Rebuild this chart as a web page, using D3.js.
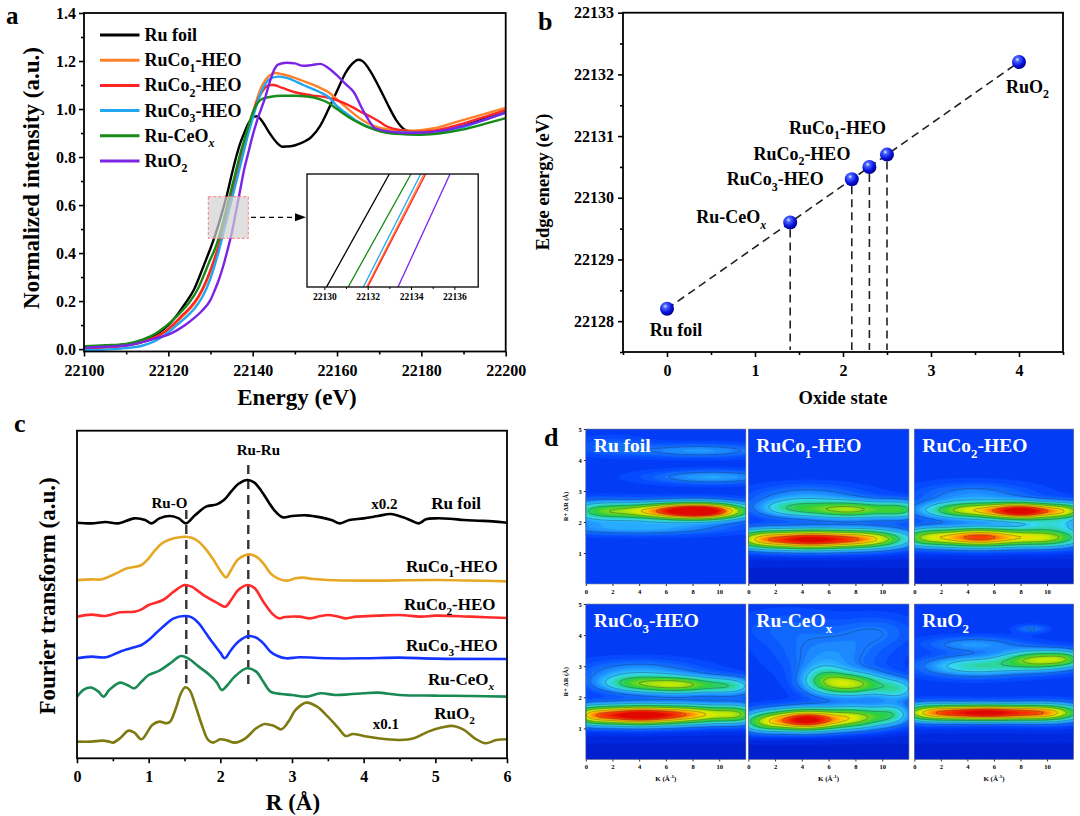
<!DOCTYPE html>
<html><head><meta charset="utf-8">
<script src="https://cdn.jsdelivr.net/npm/d3@7/dist/d3.min.js"></script>
<style>html,body{margin:0;padding:0;background:#fff}svg{display:block}</style>
</head><body>
<svg id="fig" width="1080" height="816" xmlns="http://www.w3.org/2000/svg"></svg>
<script>
// ================= DATA =================
// (a) Ru K-edge XANES  [energy (eV), normalized intensity]
const xanesNames = ["Ru foil","RuCo1-HEO","RuCo2-HEO","RuCo3-HEO","Ru-CeOx","RuO2"];
const xanesColors = ["#000000","#ff8028","#ff2424","#22a6f2","#178a17","#7a24e6"];
const xanesRuFoil = [[22100,0.01],[22105,0.012],[22110,0.02],[22114,0.035],[22117,0.06],[22119,0.085],[22120,0.1],[22122,0.14],[22124,0.19],[22126,0.245],[22128,0.33],[22129,0.375],[22130,0.42],[22131,0.47],[22132,0.525],[22133,0.585],[22134,0.65],[22135,0.725],[22136,0.795],[22137,0.855],[22138,0.9],[22139,0.94],[22140,0.965],[22141,0.97],[22142,0.955],[22144,0.9],[22146,0.855],[22147,0.843],[22149,0.845],[22151,0.855],[22154,0.885],[22156,0.93],[22158,1.0],[22160,1.075],[22162,1.15],[22164,1.195],[22165,1.205],[22166,1.2],[22168,1.155],[22170,1.09],[22172,1.02],[22174,0.955],[22176,0.915],[22178,0.905],[22182,0.9],[22186,0.91],[22190,0.93],[22195,0.96],[22200,0.99]];
const xanesRuCo1 = [[22100,0.005],[22105,0.008],[22110,0.015],[22114,0.03],[22117,0.05],[22119,0.07],[22121,0.095],[22123,0.13],[22125,0.165],[22127,0.21],[22129,0.28],[22131,0.375],[22132,0.43],[22133,0.5],[22134,0.57],[22135,0.64],[22136,0.71],[22137,0.78],[22138,0.85],[22139,0.92],[22140,0.98],[22141,1.04],[22142,1.09],[22143,1.12],[22144,1.14],[22145.5,1.15],[22147,1.145],[22150,1.13],[22153,1.11],[22156,1.088],[22158,1.07],[22160,1.04],[22162,1.01],[22164,0.98],[22166,0.954],[22168,0.935],[22170,0.922],[22174,0.912],[22178,0.91],[22183,0.92],[22189,0.95],[22194,0.975],[22200,1.005]];
const xanesRuCo2 = [[22100,0.005],[22105,0.008],[22110,0.015],[22114,0.03],[22117,0.05],[22119,0.07],[22121,0.1],[22123,0.135],[22125,0.17],[22127,0.215],[22129,0.285],[22131,0.38],[22132,0.435],[22133,0.505],[22134,0.575],[22135,0.645],[22136,0.715],[22137,0.785],[22138,0.85],[22139,0.92],[22140,0.98],[22141,1.03],[22142,1.065],[22143,1.09],[22144,1.1],[22145,1.1],[22147,1.088],[22150,1.07],[22154,1.057],[22158,1.047],[22161,1.03],[22164,1.005],[22166,0.985],[22168,0.968],[22170,0.948],[22172,0.926],[22175,0.912],[22178,0.905],[22183,0.91],[22189,0.935],[22194,0.962],[22200,0.995]];
const xanesRuCo3 = [[22100,-0.005],[22105,-0.002],[22110,0.004],[22114,0.015],[22117,0.035],[22120,0.07],[22122,0.1],[22124,0.13],[22126,0.165],[22128,0.215],[22130,0.295],[22131,0.35],[22132,0.41],[22133,0.48],[22134,0.55],[22135,0.62],[22136,0.69],[22137,0.76],[22138,0.83],[22139,0.9],[22140,0.96],[22141,1.02],[22142,1.07],[22143,1.105],[22144,1.125],[22146,1.135],[22148,1.13],[22152,1.1],[22156,1.07],[22158,1.05],[22160,1.012],[22162,0.985],[22165,0.947],[22168,0.922],[22171,0.908],[22175,0.902],[22180,0.9],[22185,0.905],[22190,0.925],[22195,0.955],[22200,0.985]];
const xanesRuCeOx = [[22100,0.012],[22105,0.016],[22110,0.022],[22114,0.04],[22117,0.065],[22119,0.09],[22121,0.12],[22123,0.155],[22125,0.195],[22127,0.25],[22128,0.29],[22130,0.375],[22131,0.415],[22132,0.465],[22133,0.53],[22134,0.6],[22135,0.67],[22136,0.74],[22137,0.81],[22138,0.87],[22139,0.93],[22140,0.985],[22141,1.02],[22142,1.04],[22144,1.05],[22147,1.055],[22150,1.055],[22153,1.052],[22156,1.04],[22158,1.025],[22160,1.0],[22162,0.975],[22164,0.953],[22166,0.935],[22168,0.92],[22170,0.908],[22173,0.898],[22176,0.895],[22180,0.893],[22185,0.9],[22190,0.915],[22195,0.938],[22200,0.962]];
const xanesRuO2 = [[22100,0.005],[22105,0.01],[22110,0.015],[22114,0.03],[22117,0.045],[22120,0.06],[22122,0.078],[22124,0.1],[22126,0.128],[22128,0.16],[22130,0.205],[22131,0.245],[22132,0.29],[22133,0.345],[22134,0.41],[22135,0.48],[22136,0.57],[22137,0.66],[22138,0.75],[22139,0.82],[22140,0.89],[22141,0.95],[22142,1.0],[22143,1.05],[22144,1.11],[22145,1.16],[22146,1.185],[22148,1.193],[22150,1.19],[22152,1.18],[22154,1.183],[22156,1.188],[22158,1.17],[22160,1.14],[22162,1.105],[22164,1.07],[22166,1.0],[22167.5,0.954],[22169,0.92],[22173,0.905],[22178,0.9],[22185,0.91],[22190,0.93],[22195,0.955],[22200,0.985]];
const energyTicks = [22100,22120,22140,22160,22180,22200];
const intensityTicks = [0,0.2,0.4,0.6,0.8,1.0,1.2,1.4];
// inset (zoom of the edge): energy where each edge enters / leaves the zoom window
const insetEdgeLow  = [22130.1, 22131.95, 22132.0, 22131.8, 22131.1, 22133.4];
const insetEdgeHigh = [22133.0, 22134.6, 22134.68, 22134.45, 22134.0, 22135.8];
const insetTicks = [22130,22132,22134,22136];

// (b) edge energy vs oxidation state
const edgeSamples = ["Ru foil","Ru-CeOx","RuCo3-HEO","RuCo2-HEO","RuCo1-HEO","RuO2"];
const oxideState  = [0, 1.4, 2.1, 2.3, 2.5, 4];
const edgeEnergy  = [22128.2, 22129.6, 22130.3, 22130.5, 22130.7, 22132.2];
const oxideTicks = [0,1,2,3,4];
const edgeTicks = [22128,22129,22130,22131,22132,22133];

// (c) FT-EXAFS  [R (Å), stacked magnitude (a.u.)]
const ftNames  = ["Ru foil","RuCo1-HEO","RuCo2-HEO","RuCo3-HEO","Ru-CeOx","RuO2"];
const ftColors = ["#000000","#e6a824","#ff2a2a","#1634ff","#1a8a55","#7d7a12"];
const ftRuFoil = [[0,707],[0.2,705],[0.4,709],[0.58,705],[0.8,720],[0.95,715],[1.04,705],[1.15,720],[1.3,727],[1.42,720],[1.52,705],[1.65,730],[1.8,755],[1.95,762],[2.05,775],[2.15,800],[2.25,823],[2.38,835],[2.47,828],[2.57,803],[2.67,770],[2.77,740],[2.87,723],[3.0,727],[3.2,729],[3.4,723],[3.55,715],[3.67,705],[3.8,715],[4.0,720],[4.2,727],[4.38,733],[4.55,723],[4.67,713],[4.77,705],[4.87,717],[5.0,720],[5.2,719],[5.4,715],[5.6,713],[5.8,711],[6.0,707]];
const ftRuCo1 = [[0,535],[0.2,537],[0.35,537],[0.5,550],[0.7,570],[0.9,580],[1.0,600],[1.1,627],[1.2,647],[1.35,660],[1.5,665],[1.6,662],[1.7,650],[1.8,627],[1.9,597],[2.0,563],[2.08,543],[2.15,565],[2.25,597],[2.4,612],[2.5,605],[2.6,585],[2.7,555],[2.8,540],[2.92,533],[3.05,540],[3.15,542],[3.3,538],[3.5,535],[4.0,533],[5.0,535],[6.0,531]];
const ftRuCo2 = [[0,425],[0.2,431],[0.4,427],[0.6,438],[0.8,440],[0.9,447],[1.0,460],[1.2,475],[1.35,500],[1.5,520],[1.6,515],[1.7,500],[1.8,485],[1.95,467],[2.07,455],[2.15,475],[2.25,505],[2.38,520],[2.48,510],[2.6,470],[2.72,435],[2.82,420],[2.9,424],[3.1,425],[3.25,420],[3.4,427],[3.5,430],[3.65,425],[3.75,420],[3.9,425],[4.2,428],[4.5,430],[4.8,425],[5.0,428],[5.5,425],[6.0,421]];
const ftRuCo3 = [[0,300],[0.2,305],[0.4,303],[0.6,320],[0.8,333],[0.9,340],[1.0,355],[1.1,375],[1.2,395],[1.35,420],[1.5,427],[1.6,423],[1.7,405],[1.8,375],[1.9,345],[2.0,317],[2.06,300],[2.15,325],[2.25,350],[2.4,367],[2.5,362],[2.6,345],[2.7,320],[2.8,307],[2.92,300],[3.1,303],[3.5,300],[4.0,300],[4.5,302],[5.0,299],[6.0,298]];
const ftRuCeOx = [[0,185],[0.1,207],[0.2,212],[0.3,200],[0.37,185],[0.45,205],[0.6,227],[0.7,220],[0.8,210],[0.9,230],[1.0,250],[1.15,263],[1.3,285],[1.45,307],[1.55,300],[1.7,275],[1.85,250],[1.95,228],[2.02,205],[2.1,220],[2.2,245],[2.37,270],[2.5,260],[2.6,230],[2.7,200],[2.85,193],[3.0,190],[3.2,185],[3.4,195],[3.6,190],[3.8,192],[4.0,195],[4.2,197],[4.5,190],[5.0,188],[5.5,187],[6.0,185]];
const ftRuO2 = [[0,50],[0.2,50],[0.35,53],[0.45,50],[0.5,47],[0.6,60],[0.72,83],[0.8,77],[0.9,57],[1.0,85],[1.05,100],[1.15,110],[1.25,105],[1.3,110],[1.38,150],[1.45,195],[1.51,213],[1.57,205],[1.65,160],[1.75,95],[1.83,55],[1.9,47],[2.0,57],[2.1,53],[2.2,47],[2.35,60],[2.5,90],[2.62,103],[2.75,97],[2.85,87],[2.95,110],[3.05,145],[3.2,167],[3.35,155],[3.5,125],[3.65,90],[3.75,67],[3.85,73],[4.0,67],[4.2,60],[4.5,55],[4.7,60],[4.9,80],[5.1,93],[5.25,97],[5.4,85],[5.55,60],[5.7,45],[5.85,55],[6.0,57]];
const rTicks = [0,1,2,3,4,5,6];

// (d) WT-EXAFS features: [k (Å-1), R (Å), k spread, R spread, intensity]
const wtNames = ["Ru foil","RuCo1-HEO","RuCo2-HEO","RuCo3-HEO","Ru-CeOx","RuO2"];
const wtRuFoil = [[8.8,2.35,2.4,0.19,0.86],[4.5,2.35,3.0,0.2,0.46],[0.8,2.35,1.6,0.24,0.2],[4,1.8,4.5,0.15,0.17],[9.5,3.45,3.2,0.15,0.17],[8.5,4.3,3.5,0.15,0.15],[2,4.45,1.8,0.2,0.08]];
const wtRuCo1 = [[4.3,1.43,2.7,0.22,0.86],[9.2,1.45,2.2,0.22,0.5],[0.6,1.45,1.4,0.22,0.3],[7.6,2.4,2.5,0.2,0.5],[3,2.45,1.8,0.2,0.24],[11.5,2.4,1.2,0.2,0.26],[4.5,2.85,2.8,0.25,0.13],[6,0.25,60,0.5,-0.07]];
const wtRuCo2 = [[8.3,2.35,2.0,0.19,0.86],[3.8,2.38,2.3,0.19,0.48],[11.6,2.35,1.2,0.19,0.34],[4.8,1.5,2.6,0.22,0.78],[10.2,1.5,2,0.22,0.46],[0.6,1.5,1.4,0.22,0.3],[10.5,1.92,1.5,0.12,0.14],[4.5,2.9,3,0.25,0.13],[6,0.25,60,0.5,-0.07]];
const wtRuCo3 = [[3.6,1.42,2.5,0.22,0.88],[8.3,1.45,2.3,0.22,0.52],[11.5,1.45,1.2,0.22,0.3],[0.3,1.42,1.2,0.22,0.3],[7,2.4,2.3,0.2,0.5],[3.2,2.45,1.8,0.2,0.26],[11,2.35,1.3,0.2,0.22],[4,2.85,3,0.25,0.14],[6,0.25,60,0.5,-0.07]];
const wtRuCeOx = [[4.3,1.27,1.9,0.24,0.9],[8.2,1.35,1.6,0.26,0.45],[1,1.2,1.3,0.24,0.34],[10.8,1.45,1.0,0.24,0.24],[7.8,2.42,1.8,0.26,0.5],[5.6,2.6,1.2,0.32,0.24],[11.2,2.25,1.1,0.24,0.24],[6.2,3.35,2.6,0.45,0.13],[9.5,4.1,2,0.35,0.09],[3,4.2,2.5,0.4,0.07],[6,0.25,60,0.5,-0.07]];
const wtRuO2 = [[5.4,1.5,2.7,0.18,0.88],[1,1.5,1.8,0.2,0.44],[10.2,1.5,1.9,0.2,0.52],[9.5,3.2,2.0,0.22,0.5],[4.5,3.0,2.6,0.22,0.3],[11.5,3.25,1,0.17,0.17],[4.5,3.7,2.5,0.17,0.15],[8.8,4.2,0.8,0.09,0.11],[6,0.25,60,0.5,-0.07]];
const kTicks = [0,2,4,6,8,10];
const wtRTicks = [1,2,3,4,5];

// ================= DRAWING =================
const FONT = '"Liberation Serif","Times New Roman",Times,serif';
const svg = d3.select('#fig').attr('font-family', FONT).attr('font-weight', 'bold');

function nameParts(name){
  const m = name.match(/^(RuCo)(\d)(-HEO)$/);
  if (m) return [[m[1],0],[m[2],1],[m[3],0]];
  if (name === 'Ru-CeOx') return [['Ru-CeO',0],['x',2]];
  if (name === 'RuO2') return [['RuO',0],['2',1]];
  return [[name,0]];
}
function richText(parent, name, x, y, fs, anchor, opts){
  opts = opts || {};
  const t = parent.append('text').attr('x', x).attr('y', y).attr('font-size', fs)
    .attr('text-anchor', anchor || 'start').attr('fill', opts.fill || '#000');
  const sh = fs * 0.3; let down = false;
  nameParts(name).forEach(([s, kind]) => {
    const ts = t.append('tspan').text(s);
    if (kind) { ts.attr('font-size', fs * 0.66).attr('dy', down ? 0 : sh); down = true;
      if (kind === 2 && opts.italicX !== false) ts.attr('font-style', 'italic'); }
    else if (down) { ts.attr('dy', -sh); down = false; }
  });
  return t;
}
function drawAxis(g, axis, fs, sw){
  g.call(axis);
  g.attr('font-family', FONT).attr('font-size', fs).attr('font-weight', 'bold');
  g.select('.domain').remove();
  g.selectAll('.tick line').attr('stroke', '#000').attr('stroke-width', sw || 1.6);
  g.selectAll('.tick text').attr('fill', '#000');
}
function frame(g, x0, y0, x1, y1, sw){
  g.append('rect').attr('x', x0).attr('y', y0).attr('width', x1 - x0).attr('height', y1 - y0)
    .attr('fill', 'none').attr('stroke', '#000').attr('stroke-width', sw || 1.8);
}
function panelLetter(t, x, y, fs){
  svg.append('text').attr('x', x).attr('y', y).attr('font-size', fs || 26).text(t);
}

// ---------- Panel a ----------
(function(){
  const g = svg.append('g');
  const L = 84, R = 505.7, T = 13, B = 351.5;
  const x = d3.scaleLinear().domain([22100, 22200]).range([L, R]);
  const y = d3.scaleLinear().domain([-0.01, 1.4]).range([B, T]);
  drawAxis(g.append('g').attr('transform', `translate(0,${B})`),
    d3.axisBottom(x).tickValues(d3.range(22110, 22200, 20)).tickSize(3).tickFormat(''), 16);
  drawAxis(g.append('g').attr('transform', `translate(0,${B})`),
    d3.axisBottom(x).tickValues(energyTicks).tickSize(5).tickPadding(8).tickFormat(d3.format('d')), 16);
  drawAxis(g.append('g').attr('transform', `translate(${L},0)`),
    d3.axisLeft(y).tickValues([0.1,0.3,0.5,0.7,0.9,1.1,1.3]).tickSize(3).tickFormat(''), 16);
  drawAxis(g.append('g').attr('transform', `translate(${L},0)`),
    d3.axisLeft(y).tickValues(intensityTicks).tickSize(5).tickPadding(3).tickFormat(d3.format('.1f')), 16);

  svg.append('clipPath').attr('id', 'clipA').append('rect').attr('x', L).attr('y', T).attr('width', R - L).attr('height', B - T);
  const series = [xanesRuFoil, xanesRuCo1, xanesRuCo2, xanesRuCo3, xanesRuCeOx, xanesRuO2];
  const line = d3.line().x(d => x(d[0])).y(d => y(d[1])).curve(d3.curveMonotoneX);
  const lg = g.append('g').attr('clip-path', 'url(#clipA)');
  series.forEach((s, i) => lg.append('path').attr('d', line(s)).attr('fill', 'none')
    .attr('stroke', xanesColors[i]).attr('stroke-width', 2.4).attr('stroke-linejoin', 'round'));
  frame(g, L, T, R, B);

  // zoom box + arrow
  g.append('rect').attr('x', 208.3).attr('y', 196.7).attr('width', 40).attr('height', 41.6)
    .attr('fill', '#d2d2d2').attr('fill-opacity', 0.7).attr('stroke', '#ff7c7c').attr('stroke-width', 1)
    .attr('stroke-dasharray', '3,2');
  g.append('line').attr('x1', 251).attr('x2', 297).attr('y1', 217.3).attr('y2', 217.3)
    .attr('stroke', '#000').attr('stroke-width', 1.3).attr('stroke-dasharray', '5,4');
  g.append('path').attr('d', 'M306,217.3 L295,213.3 L295,221.3 Z').attr('fill', '#000');

  // inset
  const iL = 307, iR = 478.2, iT = 174, iB = 287;
  const ix = d3.scaleLinear().domain([22129.2, 22137.1]).range([iL, iR]);
  const iy = d3.scaleLinear().domain([0, 1]).range([iB, iT]);
  g.append('rect').attr('x', iL).attr('y', iT).attr('width', iR - iL).attr('height', iB - iT).attr('fill', '#fff');
  svg.append('clipPath').attr('id', 'clipI').append('rect').attr('x', iL).attr('y', iT).attr('width', iR - iL).attr('height', iB - iT);
  const ig = g.append('g').attr('clip-path', 'url(#clipI)');
  [0, 4, 3, 1, 2, 5].forEach(i => ig.append('line')
    .attr('x1', ix(insetEdgeLow[i])).attr('y1', iy(0)).attr('x2', ix(insetEdgeHigh[i])).attr('y2', iy(1))
    .attr('stroke', xanesColors[i]).attr('stroke-width', 1.3));
  drawAxis(g.append('g').attr('transform', `translate(0,${iB})`),
    d3.axisBottom(ix).tickValues([22131,22133,22135]).tickSize(2).tickFormat(''), 9, 1);
  drawAxis(g.append('g').attr('transform', `translate(0,${iB})`),
    d3.axisBottom(ix).tickValues(insetTicks).tickSize(3).tickPadding(3).tickFormat(d3.format('d')), 9.5, 1);
  frame(g, iL, iT, iR, iB, 1.3);

  // legend
  xanesNames.forEach((n, i) => {
    const yy = 35 + i * 25.2;
    g.append('line').attr('x1', 100).attr('x2', 139.5).attr('y1', yy).attr('y2', yy)
      .attr('stroke', xanesColors[i]).attr('stroke-width', 3);
    richText(g, n, 144.6, yy + 6, 18, 'start');
  });

  g.append('text').attr('x', 297).attr('y', 405).attr('text-anchor', 'middle').attr('font-size', 23).text('Energy (eV)');
  g.append('text').attr('transform', 'translate(39,178) rotate(-90)').attr('text-anchor', 'middle')
    .attr('font-size', 23).text('Normalized intensity (a.u.)');
  panelLetter('a', 6, 24, 25);
})();

// ---------- Panel b ----------
(function(){
  const g = svg.append('g');
  const L = 623, R = 1063, T = 12.7, B = 352;
  const x = d3.scaleLinear().domain([-0.5, 4.5]).range([L, R]);
  const y = d3.scaleLinear().domain([22127.5, 22133]).range([B, T]);
  drawAxis(g.append('g').attr('transform', `translate(0,${B})`),
    d3.axisBottom(x).tickValues([-0.5,0.5,1.5,2.5,3.5,4.5]).tickSize(3).tickFormat(''), 16);
  drawAxis(g.append('g').attr('transform', `translate(0,${B})`),
    d3.axisBottom(x).tickValues(oxideTicks).tickSize(5).tickPadding(8).tickFormat(d3.format('d')), 16);
  drawAxis(g.append('g').attr('transform', `translate(${L},0)`),
    d3.axisLeft(y).tickValues([22127.5,22128.5,22129.5,22130.5,22131.5,22132.5]).tickSize(3).tickFormat(''), 16);
  drawAxis(g.append('g').attr('transform', `translate(${L},0)`),
    d3.axisLeft(y).tickValues(edgeTicks).tickSize(5).tickPadding(4).tickFormat(d3.format('d')), 16);
  frame(g, L, T, R, B);

  const n = oxideState.length;
  g.append('line').attr('x1', x(oxideState[0])).attr('y1', y(edgeEnergy[0]))
    .attr('x2', x(oxideState[n - 1])).attr('y2', y(edgeEnergy[n - 1]))
    .attr('stroke', '#222').attr('stroke-width', 1.6).attr('stroke-dasharray', '8,5');
  for (let i = 1; i < n - 1; i++) {
    g.append('line').attr('x1', x(oxideState[i])).attr('x2', x(oxideState[i]))
      .attr('y1', y(edgeEnergy[i]) + 7).attr('y2', B - 2)
      .attr('stroke', '#222').attr('stroke-width', 1.6).attr('stroke-dasharray', '8,5');
  }
  const defs = svg.append('defs');
  const rg = defs.append('radialGradient').attr('id', 'ball').attr('cx', '38%').attr('cy', '32%').attr('r', '68%');
  rg.append('stop').attr('offset', '0%').attr('stop-color', '#e6ecff');
  rg.append('stop').attr('offset', '22%').attr('stop-color', '#4a66ff');
  rg.append('stop').attr('offset', '65%').attr('stop-color', '#0a14e0');
  rg.append('stop').attr('offset', '100%').attr('stop-color', '#00008a');
  for (let i = 0; i < n; i++) {
    g.append('circle').attr('cx', x(oxideState[i])).attr('cy', y(edgeEnergy[i])).attr('r', 7).attr('fill', 'url(#ball)');
  }
  // labels (offsets from their points)
  const off = {"Ru foil":[9,27,'middle'],"Ru-CeOx":[-24,1,'end'],"RuCo3-HEO":[-28,6,'end'],
               "RuCo2-HEO":[-19,-7,'end'],"RuCo1-HEO":[-1,-21,'end'],"RuO2":[-13,31,'start']};
  edgeSamples.forEach((s, i) => {
    const o = off[s];
    richText(g, s, x(oxideState[i]) + o[0], y(edgeEnergy[i]) + o[1], 18, o[2]);
  });
  g.append('text').attr('x', 843).attr('y', 404).attr('text-anchor', 'middle').attr('font-size', 18.5).text('Oxide state');
  g.append('text').attr('transform', 'translate(549,182) rotate(-90)').attr('text-anchor', 'middle')
    .attr('font-size', 18.5).text('Edge energy (eV)');
  panelLetter('b', 538, 30);
})();

// ---------- Panel c ----------
(function(){
  const g = svg.append('g');
  const L = 77, R = 507, T = 430.7, B = 758.3;
  const x = d3.scaleLinear().domain([0, 6]).range([L, R]);
  const y = d3.scaleLinear().domain([0, 983]).range([B, T]);
  drawAxis(g.append('g').attr('transform', `translate(0,${B})`),
    d3.axisBottom(x).tickValues(d3.range(0.5, 6, 1)).tickSize(3).tickFormat(''), 16);
  drawAxis(g.append('g').attr('transform', `translate(0,${B})`),
    d3.axisBottom(x).tickValues(rTicks).tickSize(5).tickPadding(7).tickFormat(d3.format('d')), 16);
  const series = [ftRuFoil, ftRuCo1, ftRuCo2, ftRuCo3, ftRuCeOx, ftRuO2];
  const line = d3.line().x(d => x(d[0])).y(d => y(d[1])).curve(d3.curveCatmullRom.alpha(0.5));
  // reference dashed lines
  g.append('line').attr('x1', x(1.525)).attr('x2', x(1.525)).attr('y1', y(745)).attr('y2', y(225))
    .attr('stroke', '#333').attr('stroke-width', 2.4).attr('stroke-dasharray', '9,6');
  g.append('line').attr('x1', x(2.39)).attr('x2', x(2.39)).attr('y1', y(880)).attr('y2', y(217))
    .attr('stroke', '#333').attr('stroke-width', 2.4).attr('stroke-dasharray', '9,6');
  series.forEach((s, i) => g.append('path').attr('d', line(s)).attr('fill', 'none')
    .attr('stroke', ftColors[i]).attr('stroke-width', 2.6).attr('stroke-linejoin', 'round'));
  frame(g, L, T, R, B);
  const lab = (t, r, h, fs, anc) => g.append('text').attr('x', x(r)).attr('y', y(h)).attr('font-size', fs).attr('text-anchor', anc).text(t);
  lab('Ru-O', 1.29, 752, 15, 'middle');
  lab('Ru-Ru', 2.53, 909, 15, 'middle');
  lab('x0.2', 4.29, 747, 15, 'middle');
  lab('x0.1', 4.31, 87, 15, 'middle');
  richText(g, 'Ru foil', x(5.29), y(747), 17, 'middle');
  richText(g, 'RuCo1-HEO', x(5.87), y(560), 17, 'end');
  richText(g, 'RuCo2-HEO', x(5.84), y(445), 17, 'end');
  richText(g, 'RuCo3-HEO', x(5.87), y(321), 17, 'end');
  richText(g, 'Ru-CeOx', x(5.82), y(219), 17, 'end');
  richText(g, 'RuO2', x(5.55), y(119), 17, 'end');
  g.append('text').attr('x', 293).attr('y', 810).attr('text-anchor', 'middle').attr('font-size', 23).text('R (Å)');
  g.append('text').attr('transform', 'translate(55,596) rotate(-90)').attr('text-anchor', 'middle')
    .attr('font-size', 23).text('Fourier transform (a.u.)');
  panelLetter('c', 14, 432);
})();

// ---------- Panel d ----------
(function(){
  const g = svg.append('g');
  const featureSets = [wtRuFoil, wtRuCo1, wtRuCo2, wtRuCo3, wtRuCeOx, wtRuO2];
  const cols = [[585.8, 745.9], [748.3, 909], [914.3, 1073.6]];
  const rows = [[429, 584], [604, 759.5]];
  const colorStops = [[0.0,'#0014bc'],[0.08,'#002ee6'],[0.13,'#0444ff'],[0.2,'#1470ff'],[0.28,'#26a6ff'],
    [0.36,'#36d8f4'],[0.44,'#2ed69a'],[0.52,'#2ccf3c'],[0.6,'#86dc1c'],[0.68,'#d8ec00'],
    [0.75,'#ffd000'],[0.82,'#ff8a00'],[0.89,'#ff3a00'],[1.0,'#dc0000']];
  const color = d3.scaleLinear().domain(colorStops.map(d => d[0])).range(colorStops.map(d => d[1])).clamp(true);
  const nx = 120, ny = 100;
  const kScaleGrid = d3.scaleLinear().domain([0, nx]).range([0, 12]);
  const rScaleGrid = d3.scaleLinear().domain([0, ny]).range([5, 0]);
  const bands = d3.range(0, 1.0, 0.025);
  const lines = [0.21, 0.33, 0.46, 0.59, 0.72, 0.85];
  const base = 0.11;

  featureSets.forEach((feat, p) => {
    const c = p % 3, r = Math.floor(p / 3);
    const [x0, x1] = cols[c], [y0, y1] = rows[r];
    const kx = d3.scaleLinear().domain([0, 12]).range([x0, x1]);
    const ry = d3.scaleLinear().domain([0, 5]).range([y1, y0]);
    const values = new Float64Array(nx * ny);
    for (let j = 0; j < ny; j++) {
      const R = rScaleGrid(j + 0.5);
      for (let i = 0; i < nx; i++) {
        const k = kScaleGrid(i + 0.5);
        let v = base;
        for (const [k0, r0, sk, sr, a] of feat)
          v += a * Math.exp(-((k - k0) ** 2) / (2 * sk * sk) - ((R - r0) ** 2) / (2 * sr * sr));
        values[j * nx + i] = v;
      }
    }
    const proj = d3.geoTransform({ point: function(px, py){
      this.stream.point(kx(kScaleGrid(px)), ry(rScaleGrid(py)));
    }});
    const path = d3.geoPath(proj);
    const cid = 'clipD' + p;
    svg.append('clipPath').attr('id', cid).append('rect').attr('x', x0).attr('y', y0).attr('width', x1 - x0).attr('height', y1 - y0);
    const pg = g.append('g').attr('clip-path', `url(#${cid})`);
    pg.append('rect').attr('x', x0).attr('y', y0).attr('width', x1 - x0).attr('height', y1 - y0).attr('fill', color(0));
    const cont = d3.contours().size([nx, ny]).thresholds(bands)(values);
    pg.selectAll(null).data(cont).join('path').attr('d', path)
      .attr('fill', d => color(d.value + 0.0125)).attr('stroke', d => color(d.value + 0.0125)).attr('stroke-width', 0.3);
    const cl = d3.contours().size([nx, ny]).thresholds(lines)(values);
    pg.selectAll(null).data(cl).join('path').attr('d', path)
      .attr('fill', 'none').attr('stroke', '#1b2b33').attr('stroke-opacity', 0.55).attr('stroke-width', 0.6);
    g.append('rect').attr('x', x0).attr('y', y0).attr('width', x1 - x0).attr('height', y1 - y0)
      .attr('fill', 'none').attr('stroke', '#8a8a8a').attr('stroke-width', 0.6);
    richText(g, wtNames[p], x0 + 8, y0 + 23, 19.5, 'start', { fill: '#fff', italicX: false });

    drawAxis(g.append('g').attr('transform', `translate(0,${y1})`),
      d3.axisBottom(kx).tickValues(kTicks).tickSize(2).tickPadding(3).tickFormat(d3.format('d')), 6.5, 0.8);
    if (c === 0) {
      drawAxis(g.append('g').attr('transform', `translate(${x0},0)`),
        d3.axisLeft(ry).tickValues(wtRTicks).tickSize(2).tickPadding(2).tickFormat(d3.format('d')), 6.5, 0.8);
      g.append('text').attr('transform', `translate(568,${(y0 + y1) / 2}) rotate(-90)`)
        .attr('text-anchor', 'middle').attr('font-size', 6.5).text('R+ ΔR (Å)');
    }
    if (r === 1) {
      const t = g.append('text').attr('x', (x0 + x1) / 2).attr('y', y1 + 21).attr('text-anchor', 'middle').attr('font-size', 7);
      t.append('tspan').text('K (Å');
      t.append('tspan').attr('dy', -2.5).attr('font-size', 5).text('-1');
      t.append('tspan').attr('dy', 2.5).text(')');
    }
  });
  panelLetter('d', 544, 446);
})();
</script>
</body></html>
